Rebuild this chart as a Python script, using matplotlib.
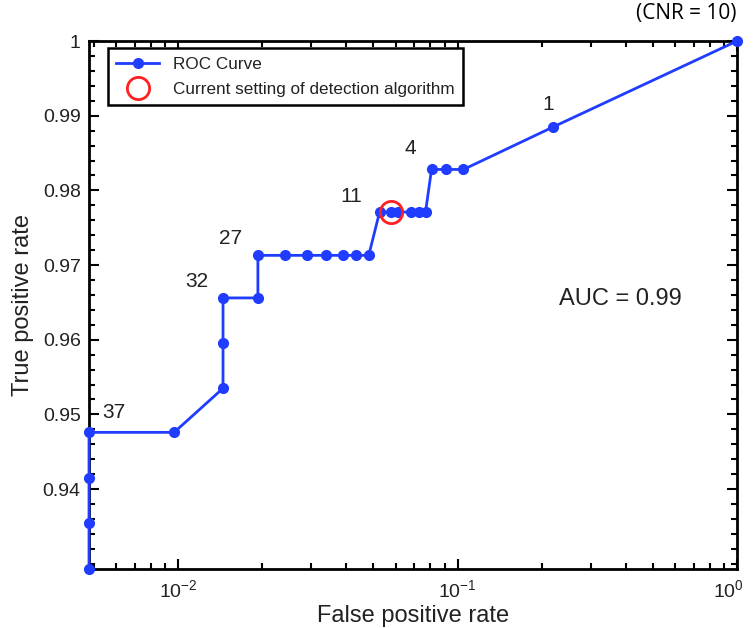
import numpy as np
import matplotlib
matplotlib.use("Agg")
import matplotlib.pyplot as plt
import matplotlib.transforms as mtransforms
from matplotlib.ticker import FixedLocator, LogLocator, NullFormatter, MultipleLocator

plt.rcParams['font.family'] = ['Liberation Sans', 'DejaVu Sans']
plt.rcParams['mathtext.default'] = 'regular'

# ROC points
fpr = [0.0048, 0.0048, 0.0048, 0.0048, 0.00968, 0.01448, 0.01448, 0.01448,
       0.0193, 0.0193, 0.0241, 0.0289, 0.0338, 0.0388, 0.0432, 0.0481,
       0.0526, 0.0576, 0.0610, 0.0680, 0.0726, 0.0768,
       0.0807, 0.0906, 0.105, 0.220, 1.0]
tpr = [0.9293, 0.9355, 0.9415, 0.9476, 0.9476, 0.9535, 0.9595, 0.9656,
       0.9656, 0.9713, 0.9713, 0.9713, 0.9713, 0.9713, 0.9713, 0.9713,
       0.9771, 0.9771, 0.9771, 0.9771, 0.9771, 0.9771,
       0.9828, 0.9828, 0.9828, 0.9885, 1.0]

current_fpr = [0.0578]
current_tpr = [0.9771]

# threshold labels: text and centre position
thr_text = ["1", "4", "11", "27", "32", "37"]
thr_x = [0.211, 0.068, 0.0415, 0.01546, 0.0117, 0.0059]
thr_y = [0.9915, 0.9856, 0.9792, 0.9736, 0.9678, 0.9503]

ytick_vals = [0.94, 0.95, 0.96, 0.97, 0.98, 0.99, 1.0]
ytick_labels = ["0.94", "0.95", "0.96", "0.97", "0.98", "0.99", "1"]

blue = '#1f3cff'
txt = '#222222'

fig = plt.figure(figsize=(7.53, 6.28), dpi=100)
ax = fig.add_axes([0.1182, 0.0939, 0.8606, 0.8408])

ax.plot(fpr, tpr, '-o', color=blue, lw=2.0, markersize=7, label='ROC Curve',
        clip_on=False, zorder=3)
ax.plot(current_fpr, current_tpr, 'o', markersize=16, markerfacecolor='none',
        markeredgecolor='#ff2020', markeredgewidth=2.0,
        label='Current setting of detection algorithm', zorder=4)

ax.set_xscale('log')
ax.set_xlim(0.0048, 1.0)
ax.set_ylim(0.9293, 1.0)

ax.set_xticks([0.01, 0.1, 1.0])
ax.set_xticklabels([r'$10^{-2}$', r'$10^{-1}$', r'$10^{0}$'])
ax.xaxis.set_minor_locator(LogLocator(base=10, subs=np.arange(2, 10)))
ax.xaxis.set_minor_formatter(NullFormatter())

ax.yaxis.set_major_locator(FixedLocator(ytick_vals))
ax.set_yticklabels(ytick_labels)
ax.yaxis.set_minor_locator(MultipleLocator(0.002))

ax.tick_params(which='both', direction='in', top=True, right=True,
               labelsize=14, width=1.5, color='black', labelcolor=txt)
ax.tick_params(which='major', length=7)
ax.tick_params(which='minor', length=4)
ax.tick_params(axis='x', pad=7)
ax.tick_params(axis='y', pad=6)
for s in ax.spines.values():
    s.set_linewidth(2.0)

# nudge the last x label left so it stays inside the figure
shift = mtransforms.ScaledTranslation(-6 / 72, 0, fig.dpi_scale_trans)
last = ax.get_xticklabels()[-1]
last.set_transform(last.get_transform() + shift)

ax.set_xlabel('False positive rate', fontsize=17, labelpad=3, color=txt)
ax.set_ylabel('True positive rate', fontsize=17, labelpad=6, color=txt)

for t, x, y in zip(thr_text, thr_x, thr_y):
    ax.text(x, y, t, fontsize=15, ha='center', va='center', color=txt)

ax.text(0.382, 0.9654, 'AUC = 0.99', fontsize=17, ha='center', va='center',
        color=txt)
ax.text(0.657, 1.0037, '(CNR = 10)', fontsize=15, ha='center', va='center',
        family=['Open Sans', 'DejaVu Sans'], clip_on=False)

leg = ax.legend(loc='upper left', bbox_to_anchor=(0.016, 1.003), fontsize=12.3,
                fancybox=False, edgecolor='black', framealpha=1,
                handlelength=2.5, borderpad=0.5, labelspacing=0.6)
leg.get_frame().set_linewidth(1.8)
for t in leg.get_texts():
    t.set_color(txt)

fig.savefig('out.png', dpi=100)
